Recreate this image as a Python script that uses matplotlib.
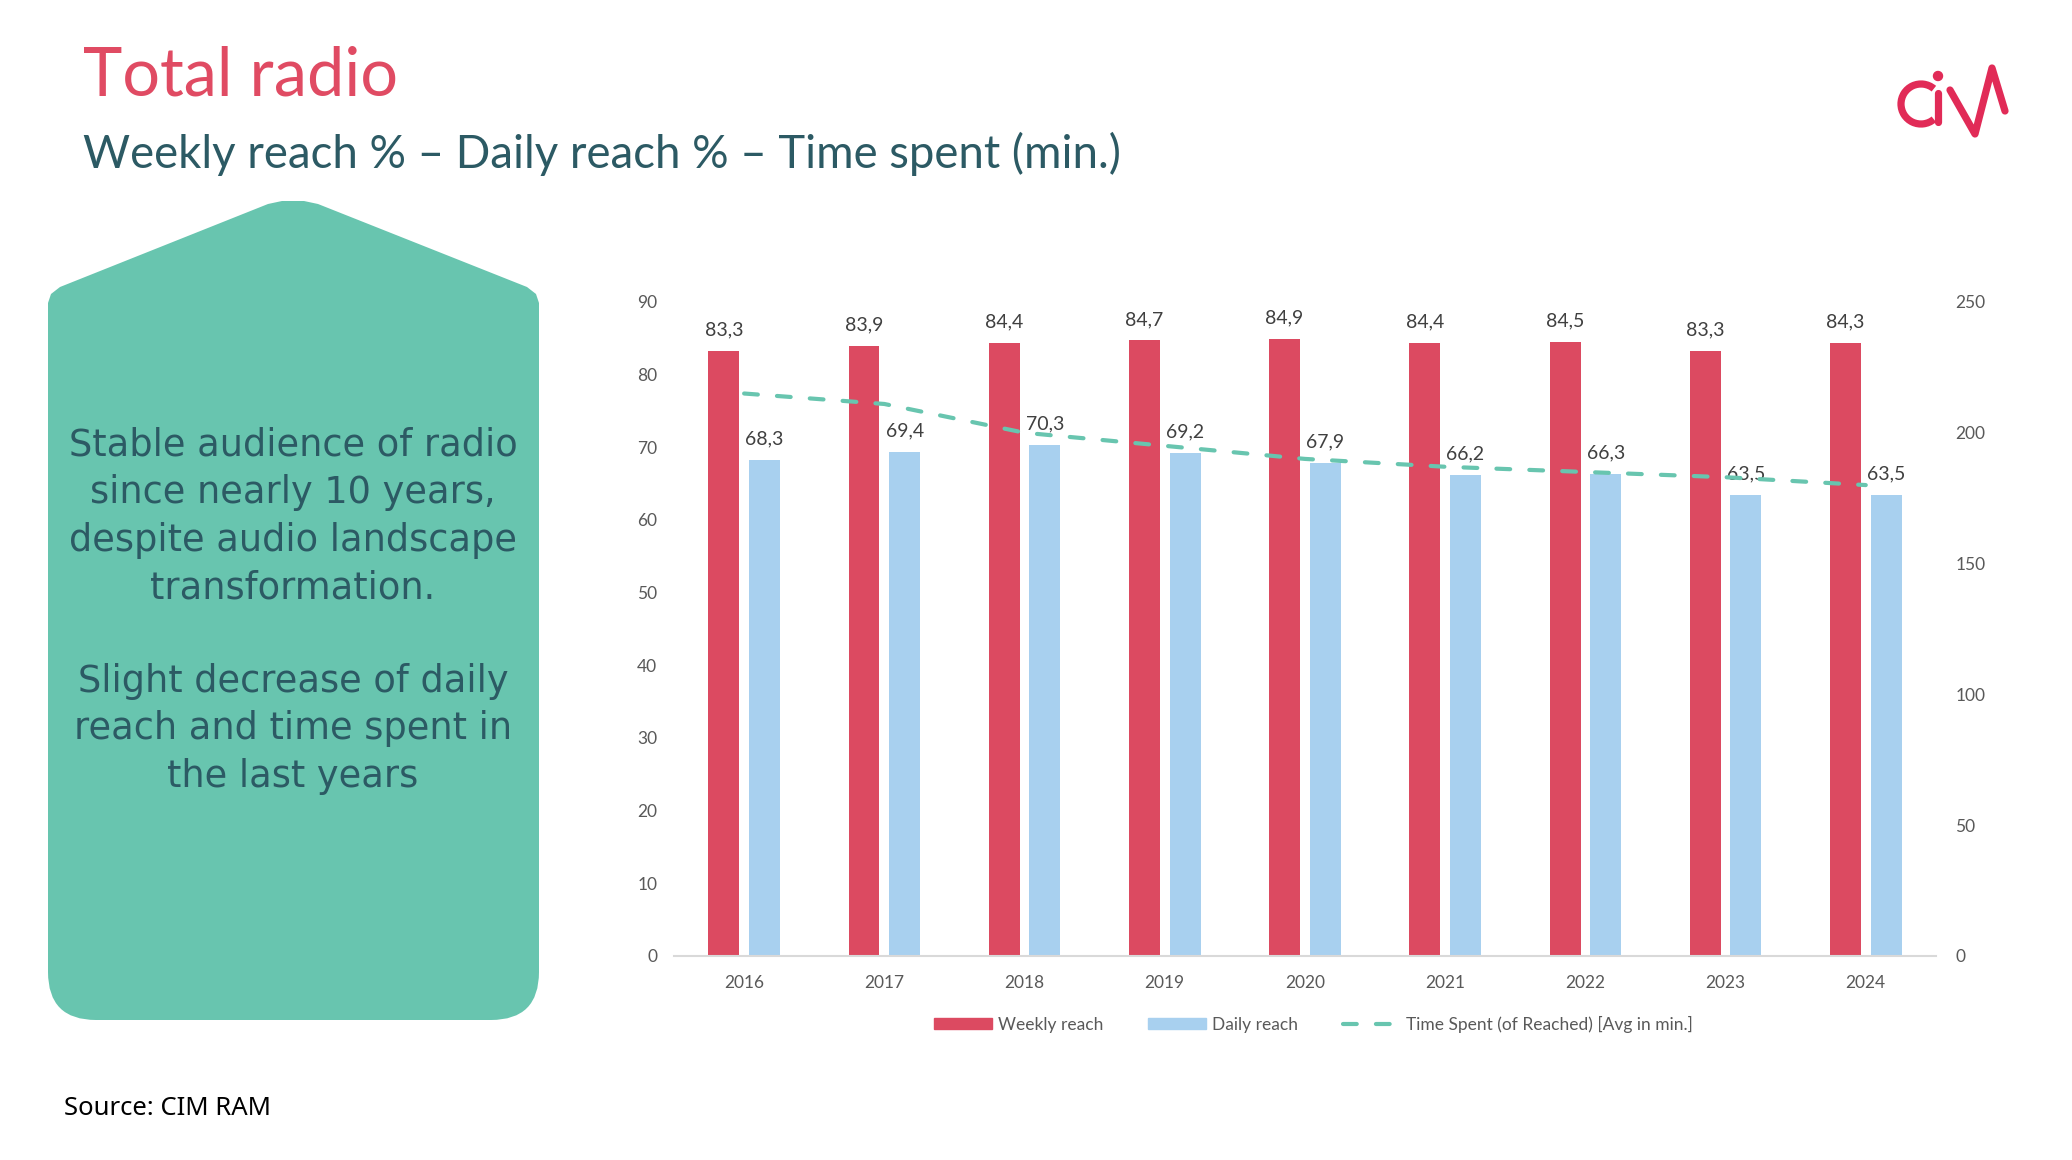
import numpy as np
import matplotlib
matplotlib.use("Agg")
import matplotlib.pyplot as plt
from matplotlib.patches import Patch, Arc, FancyBboxPatch, Polygon, Circle
from matplotlib.lines import Line2D

# data
years = ["2016", "2017", "2018", "2019", "2020", "2021", "2022", "2023", "2024"]
weekly_reach = [83.3, 83.9, 84.4, 84.7, 84.9, 84.4, 84.5, 83.3, 84.3]
daily_reach = [68.3, 69.4, 70.3, 69.2, 67.9, 66.2, 66.3, 63.5, 63.5]
time_spent = [215, 211, 200, 195, 190, 187, 185, 183, 180]

box_lines_1 = ["Stable audience of radio", "since nearly 10 years,",
               "despite audio landscape", "transformation."]
box_lines_2 = ["Slight decrease of daily", "reach and time spent in", "the last years"]

RED = "#DC4A61"
BLUE = "#A8D0EF"
GREEN = "#68C5AF"
GRAY = "#595959"
TEAL = "#2C5A64"

plt.rcParams["font.family"] = ["Lato", "DejaVu Sans"]

W, H = 2072, 1160
fig = plt.figure(figsize=(W / 100, H / 100), dpi=100)

# background layer in pixel coordinates
bg = fig.add_axes([0, 0, 1, 1], zorder=0)
bg.set_xlim(0, W)
bg.set_ylim(H, 0)
bg.axis("off")

bg.text(83, 95, "Total radio", fontsize=48, color="#E04B63", va="baseline")
bg.text(83, 168, "Weekly reach % \u2013 Daily reach % \u2013 Time spent (min.)",
        fontsize=32.8, color=TEAL, va="baseline")
bg.text(64, 1115, "Source: CIM RAM", fontsize=18.5, color="black", va="baseline",
        family=["Noto Sans", "DejaVu Sans"])

# green arrow-topped box
box = FancyBboxPatch((48, 420), 491, 600, boxstyle="round,pad=0,rounding_size=48",
                     fc=GREEN, ec="none")
bg.add_patch(box)
roof = Polygon([(48, 500), (48, 303), (51, 294), (60, 287), (268, 204), (282, 201),
                (304, 201), (318, 204), (527, 287), (536, 294), (539, 303), (539, 500)],
               closed=True, fc=GREEN, ec="none")
bg.add_patch(roof)

for i, line in enumerate(box_lines_1):
    bg.text(293, 445 + i * 47.6, line, fontsize=26.5, color=TEAL, ha="center",
            va="center", family=["DejaVu Sans"])
for i, line in enumerate(box_lines_2):
    bg.text(293, 681 + i * 47.6, line, fontsize=26.5, color=TEAL, ha="center",
            va="center", family=["DejaVu Sans"])

# CIM logo
LOGO = "#E12B57"
bg.add_patch(Arc((1921, 104), 40, 40, theta1=50, theta2=310, lw=5.2, color=LOGO))
bg.plot([1938, 1938], [93, 122], color=LOGO, lw=5.2, solid_capstyle="round")
bg.add_patch(Circle((1938, 76), 4.5, color=LOGO))
bg.plot([1950, 1975, 1992, 2005], [90, 134, 68, 111], color=LOGO, lw=5.2,
        solid_capstyle="round", solid_joinstyle="round")

# chart
ax = fig.add_axes([0.3253, 0.1759, 0.609, 0.5638], zorder=2)
ax.patch.set_alpha(0)
x = np.arange(len(years))
bw = 0.221
off = 0.145
b1 = ax.bar(x - off, weekly_reach, bw, color=RED, zorder=2)
b2 = ax.bar(x + off, daily_reach, bw, color=BLUE, zorder=2)
for rect, v in zip(b1, weekly_reach):
    ax.annotate(f"{v:.1f}".replace(".", ","), (rect.get_x() + rect.get_width() / 2, v),
                xytext=(0, 9), textcoords="offset points", ha="center", va="bottom",
                fontsize=14, color="#404040", zorder=5)
for rect, v in zip(b2, daily_reach):
    ax.annotate(f"{v:.1f}".replace(".", ","), (rect.get_x() + rect.get_width() / 2, v),
                xytext=(0, 9), textcoords="offset points", ha="center", va="bottom",
                fontsize=14, color="#404040", zorder=5)

ax.set_xlim(-0.5, len(years) - 0.5)
ax.set_ylim(0, 90)
ax.set_yticks(range(0, 91, 10))
ax.set_xticks(x)
ax.set_xticklabels(years)
ax.tick_params(axis="both", length=0, labelsize=12.5, labelcolor=GRAY)
ax.tick_params(axis="y", pad=12)
ax.tick_params(axis="x", pad=14)
for s in ["left", "right", "top"]:
    ax.spines[s].set_visible(False)
ax.spines["bottom"].set_color("#D9D9D9")
ax.spines["bottom"].set_linewidth(1.5)

ax2 = ax.twinx()
ax2.set_ylim(0, 250)
ax2.set_yticks(range(0, 251, 50))
ax2.tick_params(axis="y", length=0, labelsize=12.5, labelcolor=GRAY, pad=14)
for s in ax2.spines.values():
    s.set_visible(False)
line, = ax2.plot(x, time_spent, color=GREEN, lw=3, dashes=(3.3, 4.6),
                 dash_capstyle="round", zorder=3)

handles = [Patch(color=RED, label="Weekly reach"),
           Patch(color=BLUE, label="Daily reach"),
           Line2D([], [], color=GREEN, lw=3, dashes=(3.3, 4.6), dash_capstyle="round",
                  label="Time Spent (of Reached) [Avg in min.]")]
leg = fig.legend(handles=handles, loc="center", bbox_to_anchor=(0.634, 0.117), ncol=3,
                 frameon=False, fontsize=12.5, handlelength=3.35, handleheight=0.6,
                 handletextpad=0.3, columnspacing=2.6)
for t in leg.get_texts():
    t.set_color(GRAY)

fig.savefig("out.png", dpi=100)
